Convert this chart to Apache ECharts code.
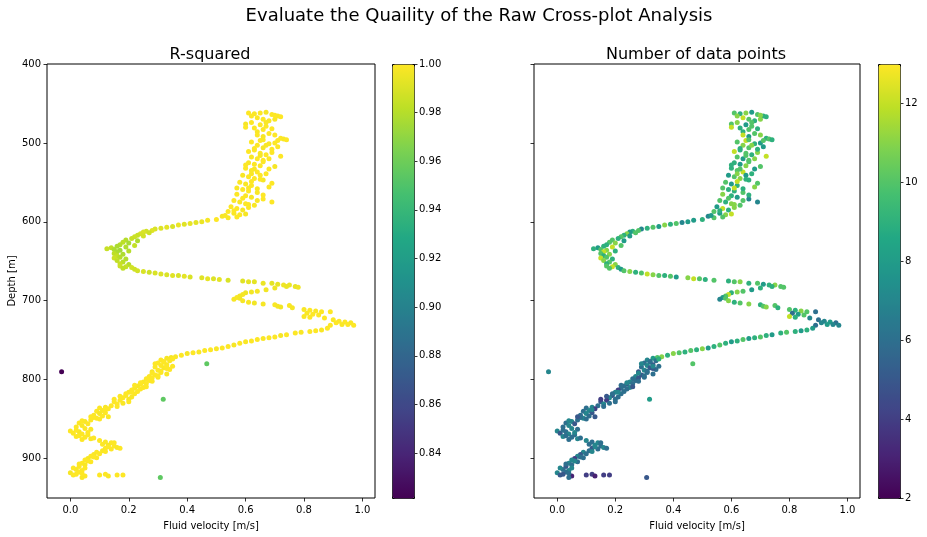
<!DOCTYPE html>
<html>
<head>
<meta charset="utf-8">
<script src="https://cdn.jsdelivr.net/npm/echarts@6/dist/echarts.min.js"></script>
<style>html,body{margin:0;padding:0;background:#fff}#c{width:927px;height:537px}</style>
</head>
<body>
<div id="c"></div>
<script>
// ---- data ----
const velocity = [
  0.61,0.63,0.65,0.67,0.69,0.71,0.64,0.66,0.68,0.62,0.60,0.65,0.67,0.70,0.63,0.66,
  0.64,0.68,0.70,0.66,0.72,0.73,0.65,0.62,0.68,0.64,0.70,0.66,0.63,0.61,0.65,0.67,0.69,0.62,0.64,
  0.66,0.61,0.63,0.65,0.70,0.60,0.62,0.64,0.67,0.59,0.61,0.63,0.66,0.58,0.60,0.62,0.68,0.57,0.59,
  0.61,0.64,0.57,0.60,0.62,0.66,0.56,0.58,0.60,0.63,0.55,0.57,0.59,0.54,0.56,0.58,0.52,0.54,0.50,0.47,
  0.62,0.67,0.69,0.64,0.66,0.71,0.63,0.65,0.68,0.60,0.63,0.65,0.62,0.64,0.59,0.61,
  0.45,0.43,0.41,0.39,0.37,0.35,0.33,0.31,0.29,0.28,0.26,0.25,0.27,0.24,0.23,0.22,0.25,
  0.21,0.19,0.23,0.18,0.20,0.17,0.22,0.16,0.19,0.14,0.125,0.15,0.17,0.20,0.16,0.15,0.18,0.16,0.17,0.15,0.19,0.16,0.18,0.17,0.20,0.17,0.19,0.21,0.18,0.22,
  0.23,0.25,0.27,0.29,0.31,0.33,0.35,0.37,0.39,0.41,0.45,0.47,0.49,0.51,0.54,0.59,0.61,0.63,0.66,0.69,0.71,0.73,0.75,0.77,0.74,0.78,
  0.70,0.67,0.64,0.62,0.60,0.59,0.58,0.57,0.56,0.58,0.59,0.61,0.63,0.66,0.70,0.71,0.72,0.75,0.76,
  0.80,0.82,0.84,0.86,0.89,0.81,0.83,0.85,0.80,0.82,0.87,0.90,0.92,0.94,0.96,0.95,0.97,0.93,0.91,0.89,
  0.88,0.86,0.84,0.82,0.79,0.77,0.74,0.72,0.70,0.68,0.66,0.64,0.62,0.60,0.58,0.56,0.54,0.52,0.50,0.48,0.46,0.44,0.42,0.40,0.38,0.36,0.345,
  0.33,0.31,0.34,0.32,0.30,0.33,0.31,0.29,0.32,0.34,0.30,0.28,0.31,0.33,0.29,0.27,0.30,0.26,
  0.27,0.25,0.26,0.24,0.23,0.25,0.22,0.21,0.23,0.20,0.22,0.19,0.21,0.18,0.20,0.17,0.15,0.18,0.16,
  0.14,0.12,0.10,0.13,0.11,0.09,0.12,0.10,0.08,0.11,0.13,0.09,
  0.07,0.05,0.03,0.06,0.04,0.02,0.05,0.07,0.00,0.03,0.01,0.04,0.06,0.02,0.05,0.07,0.04,
  0.10,0.12,0.14,0.11,0.13,0.15,0.16,0.12,0.14,
  0.11,0.09,0.10,0.08,0.07,0.09,0.06,0.05,0.07,
  0.04,0.05,0.03,0.05,0.02,0.04,0.03,0.00,0.02,0.05,0.04,0.10,0.12,0.13,0.16,0.18,
  // extra top
  0.70,0.72,0.60,0.74,0.71,0.67,0.69,0.72,0.66,0.68,0.62,0.65,0.69,0.61,0.66,0.64,0.69,0.61,0.56,0.60,0.53,0.57,
  // extra lower
  0.35,0.32,0.29,0.35,0.33,0.31,0.28,0.30,0.28,0.33,
  0.28,0.24,0.22,0.26,0.24,0.21,0.19,0.17,0.20,0.15,
  0.16,0.12,0.08,0.07,0.10,0.04,0.02,0.06,0.03,0.08,
  0.15,0.13,0.17,0.12,0.08,0.06,0.03,0.01,0.04,0.01,
  // outliers
  -0.03,0.467,0.318,0.308
];
const depth = [
  462,463,462,461,464,466,468,470,472,474,476,477,479,470,481,483,
  486,488,490,492,494,495,497,499,501,503,500,506,509,511,513,515,512,518,520,
  522,525,527,529,530,532,535,537,539,541,543,545,547,550,552,554,556,557,559,
  561,563,565,567,569,571,573,575,577,579,581,583,585,587,589,591,593,595,597,598,
  466,474,482,490,496,505,507,516,520,528,533,541,549,558,570,578,
  600,601,602,603,604,606,607,608,609,611,612,613,614,615,617,619,618,
  621,623,624,626,627,629,630,631,632,633,634,635,636,637,638,640,641,643,645,646,647,649,651,653,654,656,657,658,659,660,
  662,663,664,665,666,667,668,668,669,670,671,672,672,673,674,675,676,676,678,678,679,680,680,682,682,683,
  684,686,688,689,690,692,694,696,698,697,700,702,703,704,705,707,708,706,709,
  711,712,713,714,714,716,717,718,720,721,722,724,726,727,728,730,731,730,728,731,
  735,737,738,739,740,741,743,744,746,747,748,749,751,752,754,756,758,760,761,762,763,765,766,767,769,771,772,
  773,775,776,778,779,781,782,784,785,787,788,790,791,793,794,796,797,799,
  801,803,805,806,808,810,811,813,815,816,818,820,822,823,825,826,828,830,831,
  833,835,836,837,839,840,842,843,845,846,847,849,
  851,853,855,856,858,860,862,863,865,866,868,869,870,872,873,875,876,
  877,879,880,882,883,884,886,887,888,
  890,892,894,895,897,899,900,902,904,
  906,908,910,912,914,915,917,918,920,922,924,921,920,922,921,921,
  465,467,480,496,497,503,508,517,524,533,539,546,551,557,566,573,575,582,586,590,592,594,
  774,777,780,783,786,789,792,795,798,783,
  802,804,807,809,812,816,818,821,828,825,
  834,838,848,847,850,852,864,867,871,874,
  880,885,887,891,898,903,907,912,919,921,
  790,780,825,924
];
const rSquared = [
  1.00,0.999,1.00,0.998,1.00,0.999,1.00,1.00,0.999,1.00,0.998,1.00,1.00,0.999,1.00,1.00,
  0.999,1.00,1.00,0.998,1.00,0.999,1.00,1.00,0.999,1.00,1.00,0.998,1.00,1.00,0.999,1.00,1.00,0.999,1.00,
  1.00,0.999,1.00,1.00,0.998,1.00,0.999,1.00,1.00,0.999,1.00,1.00,0.998,1.00,0.999,1.00,1.00,0.999,1.00,
  1.00,0.999,1.00,1.00,0.998,1.00,1.00,0.999,1.00,0.999,1.00,1.00,0.998,1.00,0.999,1.00,0.998,0.999,1.00,0.998,
  1.00,0.999,1.00,1.00,0.999,1.00,1.00,0.998,1.00,1.00,0.999,1.00,1.00,0.999,1.00,1.00,
  0.995,0.993,0.994,0.992,0.995,0.990,0.993,0.991,0.990,0.992,0.988,0.990,0.987,0.989,0.985,0.986,0.988,
  0.985,0.980,0.978,0.982,0.976,0.980,0.984,0.977,0.979,0.983,0.985,0.978,0.975,0.980,0.977,0.982,0.978,0.984,0.980,0.986,0.979,0.983,0.981,0.985,0.980,0.986,0.984,0.988,0.983,0.987,
  0.988,0.990,0.987,0.990,0.991,0.990,0.992,0.990,0.993,0.990,0.992,0.994,0.991,0.993,0.990,0.992,0.994,0.993,0.995,0.993,0.994,0.996,0.995,0.994,0.995,0.996,
  0.996,0.997,0.998,0.997,0.996,0.998,0.997,0.999,0.998,0.997,0.998,0.999,0.997,0.998,0.999,0.998,0.997,0.999,0.998,
  0.999,1.00,0.999,1.00,1.00,0.999,1.00,1.00,0.999,1.00,1.00,0.999,1.00,1.00,0.999,1.00,1.00,0.999,1.00,1.00,
  1.00,0.999,1.00,1.00,0.999,1.00,1.00,0.998,1.00,1.00,0.999,1.00,1.00,0.999,1.00,0.998,1.00,1.00,0.999,1.00,1.00,0.999,1.00,0.998,1.00,0.999,0.998,
  0.998,1.00,0.999,1.00,1.00,0.999,1.00,1.00,0.999,1.00,1.00,0.998,1.00,0.999,1.00,1.00,0.999,1.00,
  1.00,0.999,1.00,1.00,0.998,1.00,0.999,1.00,1.00,0.999,1.00,1.00,0.999,1.00,0.998,1.00,1.00,0.999,1.00,
  1.00,0.999,1.00,1.00,0.999,1.00,1.00,0.998,1.00,1.00,0.999,1.00,
  1.00,0.999,1.00,1.00,0.999,1.00,1.00,0.999,1.00,0.998,1.00,1.00,0.999,1.00,1.00,0.999,1.00,
  1.00,0.999,1.00,1.00,0.998,1.00,0.999,1.00,1.00,
  0.999,1.00,1.00,0.999,1.00,1.00,0.998,1.00,1.00,
  1.00,0.999,1.00,1.00,0.999,1.00,1.00,0.998,1.00,1.00,0.999,1.00,1.00,0.999,1.00,1.00,
  1.00,1.00,1.00,1.00,1.00,0.999,1.00,1.00,1.00,1.00,0.999,1.00,1.00,1.00,1.00,0.999,1.00,1.00,1.00,0.998,0.999,1.00,
  1.00,1.00,1.00,1.00,1.00,1.00,1.00,1.00,1.00,1.00,
  1.00,1.00,1.00,1.00,1.00,1.00,1.00,1.00,1.00,1.00,
  1.00,1.00,1.00,1.00,1.00,1.00,1.00,1.00,1.00,1.00,
  1.00,1.00,1.00,1.00,1.00,1.00,1.00,1.00,1.00,1.00,
  0.8215,0.955,0.955,0.955
];
const nPoints = [
  10,9,11,8,10,9,12,10,9,11,10,8,10,11,9,10,
  9,10,11,8,9,10,12,10,9,11,8,10,9,12,10,9,11,10,8,
  10,9,8,11,10,9,10,12,9,8,10,11,9,10,8,9,11,10,9,
  9,10,11,9,8,7,10,9,11,10,8,12,9,10,8,11,7,10,9,8,
  11,10,9,12,10,8,9,10,11,9,10,8,12,9,10,11,
  8,7,10,9,11,8,10,9,7,10,9,8,10,11,9,10,8,
  9,10,8,10,11,9,10,9,12,8,9,10,11,9,12,10,11,9,10,12,9,11,10,9,11,10,12,9,10,8,
  10,11,9,10,12,11,10,9,10,8,11,12,10,9,10,9,10,11,9,10,8,9,11,10,9,10,
  9,8,10,11,9,12,10,8,7,10,11,9,10,11,9,10,11,10,9,
  10,9,11,10,6,6,8,10,12,9,7,6,7,8,6,7,7,8,7,6,
  8,9,8,9,10,9,8,9,10,9,8,10,9,8,9,10,9,8,11,9,10,9,10,11,9,11,10,
  8,7,6,7,6,5,7,6,5,6,7,5,6,6,5,7,6,6,
  6,7,6,5,6,7,6,4,6,7,6,5,6,7,6,4,5,6,7,
  6,7,6,4,7,6,5,7,6,6,5,7,
  6,7,6,5,7,6,7,6,7,6,5,7,6,7,6,7,6,
  7,6,7,6,7,6,7,5,6,
  6,7,6,5,7,6,4,7,6,
  7,6,5,7,6,7,6,7,5,3,6,4,4,3,4,4,
  11,9,12,9,10,11,9,12,10,8,11,9,10,12,9,10,7,11,9,12,8,10,
  9,6,7,6,5,6,7,6,5,7,
  6,7,6,5,6,7,6,5,6,4,
  6,7,6,5,6,7,6,7,6,6,
  6,7,6,7,6,7,6,7,6,5,
  7,10,8,5
];
const xTicks = [0.0, 0.2, 0.4, 0.6, 0.8, 1.0];
const depthTicks = [400, 500, 600, 700, 800, 900];
const r2Ticks = [0.84, 0.86, 0.88, 0.90, 0.92, 0.94, 0.96, 0.98, 1.00];
const nTicks = [2, 4, 6, 8, 10, 12];
const r2Range = [0.8215, 1.0];
const nRange = [2, 13];
const velRange = [-0.08, 1.043];
const depthRange = [400, 950];

// ---- chart ----
const data = velocity.map((v, i) => [v, depth[i], rSquared[i], nPoints[i]]);
const viridis = ['#440154','#482475','#414487','#355f8d','#2a788e','#21918c','#22a884','#44bf70','#7ad151','#bddf26','#fde725'];
const FONT = 'DejaVu Sans';
const lbl = {fontFamily: FONT, fontSize: 10, color: '#000'};
const tick = {show: true, length: 3.5, lineStyle: {color: '#000', width: 0.8}};

function mainX(gi) {
  return {
    gridIndex: gi, type: 'value', min: velRange[0], max: velRange[1],
    axisLine: {show: false, onZero: false}, splitLine: {show: false},
    axisTick: Object.assign({customValues: xTicks}, tick),
    axisLabel: Object.assign({customValues: xTicks, formatter: v => v.toFixed(1), margin: 7}, lbl),
    name: 'Fluid velocity [m/s]', nameLocation: 'middle', nameGap: 23,
    nameTextStyle: lbl
  };
}
function mainY(gi, showLabels) {
  const y = {
    gridIndex: gi, type: 'value', inverse: true, min: depthRange[0], max: depthRange[1],
    axisLine: {show: false, onZero: false}, splitLine: {show: false},
    axisTick: Object.assign({customValues: depthTicks}, tick),
    axisLabel: Object.assign({show: showLabels, customValues: depthTicks, margin: 6}, lbl)
  };
  if (showLabels) {
    y.name = 'Depth [m]'; y.nameLocation = 'middle'; y.nameGap = 30; y.nameTextStyle = lbl;
  }
  return y;
}
function cbY(gi, range, ticks, fmt) {
  return {
    gridIndex: gi, type: 'value', position: 'right', min: range[0], max: range[1],
    axisLine: {show: false, onZero: false}, splitLine: {show: false},
    axisTick: Object.assign({customValues: ticks}, tick),
    axisLabel: Object.assign({customValues: ticks, formatter: fmt, margin: 5}, lbl)
  };
}
const titleStyle = {fontFamily: FONT, fontWeight: 'normal', color: '#000'};

const chart = echarts.init(document.getElementById('c'));
chart.setOption({
  backgroundColor: '#fff',
  animation: false,
  textStyle: {fontFamily: FONT},
  title: [
    {text: 'Evaluate the Quaility of the Raw Cross-plot Analysis', left: 479, top: 7, textAlign: 'center', padding: 0,
     textStyle: Object.assign({fontSize: 18}, titleStyle)},
    {text: 'R-squared', left: 210, top: 47, textAlign: 'center', padding: 0,
     textStyle: Object.assign({fontSize: 16}, titleStyle)},
    {text: 'Number of data points', left: 696, top: 47, textAlign: 'center', padding: 0,
     textStyle: Object.assign({fontSize: 16}, titleStyle)}
  ],
  grid: [
    {left: 47, top: 64, width: 328, height: 434, show: true, borderColor: '#000', borderWidth: 1, backgroundColor: 'transparent'},
    {left: 534, top: 64, width: 326, height: 434, show: true, borderColor: '#000', borderWidth: 1, backgroundColor: 'transparent'},
    {left: 392, top: 64, width: 22, height: 434, show: false},
    {left: 878, top: 64, width: 22, height: 434, show: false}
  ],
  xAxis: [
    mainX(0), mainX(1),
    {gridIndex: 2, type: 'value', show: false},
    {gridIndex: 3, type: 'value', show: false}
  ],
  yAxis: [
    mainY(0, true), mainY(1, false),
    cbY(2, r2Range, r2Ticks, v => v.toFixed(2)),
    cbY(3, nRange, nTicks, v => String(v))
  ],
  visualMap: [
    {type: 'continuous', seriesIndex: 0, dimension: 2, min: r2Range[0], max: r2Range[1],
     inRange: {color: viridis}, left: 392, top: 64, itemWidth: 22, itemHeight: 434,
     padding: 0, calculable: false, hoverLink: false, text: null, showLabel: false,
     borderColor: '#000', borderWidth: 1, backgroundColor: 'transparent'},
    {type: 'continuous', seriesIndex: 1, dimension: 3, min: nRange[0], max: nRange[1],
     inRange: {color: viridis}, left: 878, top: 64, itemWidth: 22, itemHeight: 434,
     padding: 0, calculable: false, hoverLink: false, text: null, showLabel: false,
     borderColor: '#000', borderWidth: 1, backgroundColor: 'transparent'}
  ],
  series: [
    {type: 'scatter', xAxisIndex: 0, yAxisIndex: 0, data: data, symbolSize: 5,
     encode: {x: 0, y: 1}, itemStyle: {opacity: 1}},
    {type: 'scatter', xAxisIndex: 1, yAxisIndex: 1, data: data, symbolSize: 5,
     encode: {x: 0, y: 1}, itemStyle: {opacity: 1}}
  ]
});
</script>
</body>
</html>
